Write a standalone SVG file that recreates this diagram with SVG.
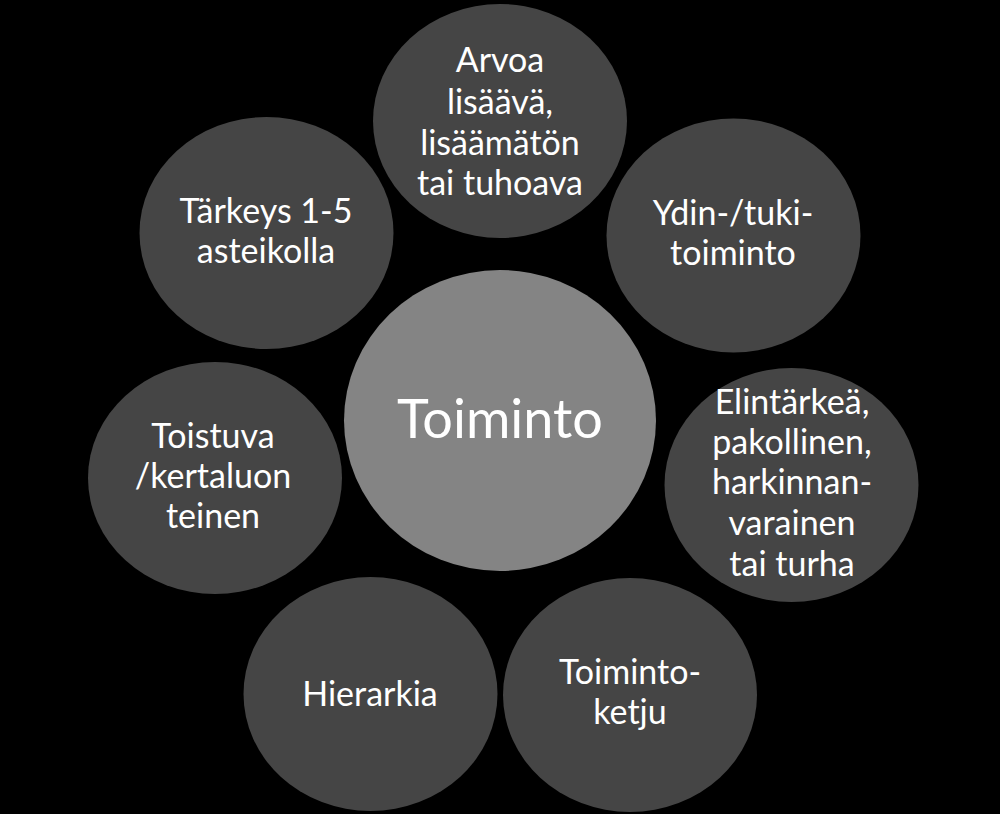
<svg xmlns="http://www.w3.org/2000/svg" width="1000" height="814" viewBox="0 0 1000 814">
<style>
.sat{fill:#454545}
.hub{fill:#848484}
.t{font-family:Lato,"Open Sans","Liberation Sans",sans-serif;font-size:34px;fill:#ffffff;text-anchor:middle}
.big{font-size:54px}
</style>
<rect x="0" y="0" width="1000" height="814" fill="#000000"/>
<g id="connectors"></g>
<g id="node-toiminto">
<ellipse class="hub" cx="500" cy="420.5" rx="156" ry="150.5"/>
<text class="t big" x="500" y="438">Toiminto</text>
</g>
<g id="node-arvoa">
<ellipse class="sat" cx="500" cy="121" rx="127" ry="117"/>
<text class="t" x="500" y="72">Arvoa</text>
<text class="t" x="500" y="114">lisäävä,</text>
<text class="t" x="500" y="155">lisäämätön</text>
<text class="t" x="500" y="195">tai tuhoava</text>
</g>
<g id="node-ydin">
<ellipse class="sat" cx="733.5" cy="235.5" rx="127" ry="117"/>
<text class="t" x="733" y="225">Ydin-/tuki-</text>
<text class="t" x="733" y="265">toiminto</text>
</g>
<g id="node-elintarkea">
<ellipse class="sat" cx="791.5" cy="485" rx="127" ry="117"/>
<text class="t" x="792" y="414">Elintärkeä,</text>
<text class="t" x="792" y="454">pakollinen,</text>
<text class="t" x="792" y="494">harkinnan-</text>
<text class="t" x="792" y="535">varainen</text>
<text class="t" x="792" y="576">tai turha</text>
</g>
<g id="node-toimintoketju">
<ellipse class="sat" cx="630" cy="695" rx="127" ry="117"/>
<text class="t" x="630" y="684">Toiminto-</text>
<text class="t" x="630" y="724">ketju</text>
</g>
<g id="node-hierarkia">
<ellipse class="sat" cx="370.5" cy="694" rx="127" ry="117"/>
<text class="t" x="370" y="706">Hierarkia</text>
</g>
<g id="node-toistuva">
<ellipse class="sat" cx="215" cy="478" rx="127" ry="116"/>
<text class="t" x="213" y="448">Toistuva</text>
<text class="t" x="213" y="488">/kertaluon</text>
<text class="t" x="213" y="528">teinen</text>
</g>
<g id="node-tarkeys">
<ellipse class="sat" cx="266.5" cy="233" rx="127" ry="116"/>
<text class="t" x="266" y="223">Tärkeys 1-5</text>
<text class="t" x="266" y="263">asteikolla</text>
</g>
</svg>
